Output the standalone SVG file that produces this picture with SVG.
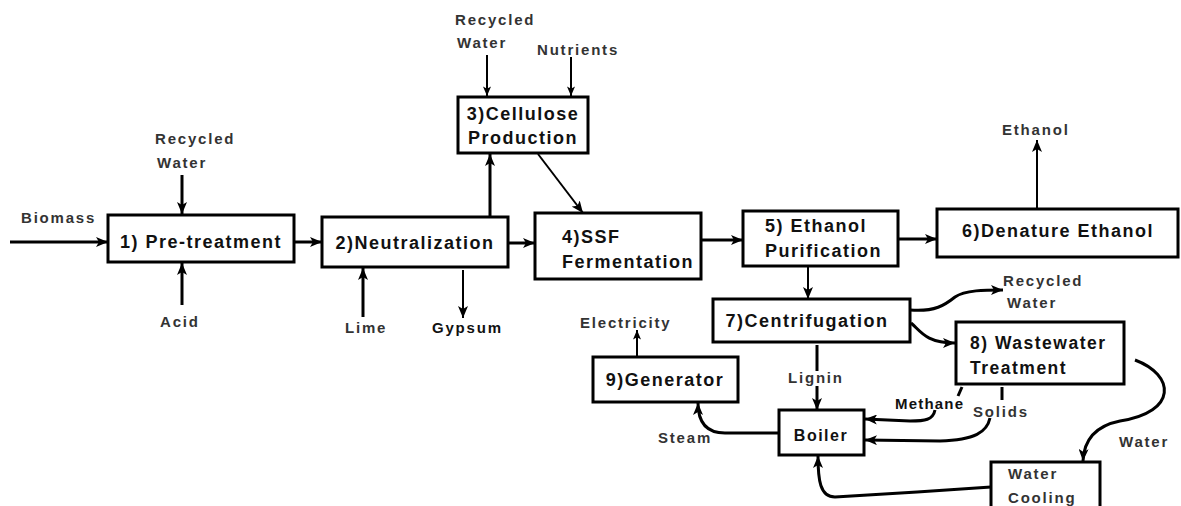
<svg xmlns="http://www.w3.org/2000/svg" width="1181" height="506" viewBox="0 0 1181 506">
<defs>
<marker id="ah" viewBox="0 0 12 10" refX="12" refY="5" markerWidth="12" markerHeight="10" markerUnits="userSpaceOnUse" orient="auto"><path d="M0,0 L12,5 L0,10 L3,5 z" fill="#000"/></marker>
<marker id="ahs" viewBox="0 0 12 10" refX="12" refY="5" markerWidth="10" markerHeight="8" markerUnits="userSpaceOnUse" orient="auto"><path d="M0,0 L12,5 L0,10 L3,5 z" fill="#000"/></marker>
</defs>
<style>
.box{fill:#fff;stroke:#000;stroke-width:3}
.bt{font-family:"Liberation Sans",Arial,sans-serif;font-weight:bold;font-size:18px;letter-spacing:1.5px;fill:#111}
.lb{font-family:"Liberation Sans",Arial,sans-serif;font-weight:bold;font-size:15px;letter-spacing:1.8px;fill:#333}
.c{fill:none;stroke:#000;stroke-width:3}
.t{fill:none;stroke:#000;stroke-width:2}
</style>
<rect width="1181" height="506" fill="#fff"/>
<g id="connectors">
<path class="c" d="M10,242 H108" marker-end="url(#ah)"/>
<path class="c" d="M182,175 V214" marker-end="url(#ah)"/>
<path class="c" d="M182,305 V263" marker-end="url(#ah)"/>
<path class="c" d="M294,242 H322" marker-end="url(#ah)"/>
<path class="c" d="M490,217 V154" marker-end="url(#ah)"/>
<path class="t" d="M487,55 V96" marker-end="url(#ahs)"/>
<path class="t" d="M571,57 V96" marker-end="url(#ahs)"/>
<path class="t" d="M538,154 L583,213" marker-end="url(#ah)"/>
<path class="c" d="M508,243 H535" marker-end="url(#ah)"/>
<path class="c" d="M363,317 V268" marker-end="url(#ah)"/>
<path class="t" d="M463,270 V318" marker-end="url(#ah)"/>
<path class="c" d="M701,240 H743" marker-end="url(#ah)"/>
<path class="c" d="M898,239 H937" marker-end="url(#ah)"/>
<path class="t" d="M1037,208 V140" marker-end="url(#ah)"/>
<path class="t" d="M808,266 V299" marker-end="url(#ah)"/>
<path class="t" d="M637,357 V330" marker-end="url(#ahs)"/>
<path class="c" d="M910,310 C935,312 945,305 955,297 C965,290 985,290 1003,290" marker-end="url(#ah)"/>
<path class="c" d="M911,323 C920,330 925,343 955,343" marker-end="url(#ah)"/>
<path class="c" d="M817,345 V371"/>
<path class="c" d="M817,386 V410" marker-end="url(#ah)"/>
<path class="c" d="M779,433 H725 C706,433 698,422 698,403" marker-end="url(#ah)"/>
<path class="c" d="M962,387 L958,396"/>
<path class="c" d="M935,410 C933,420 925,421 910,421 L865,419" marker-end="url(#ah)"/>
<path class="c" d="M1002,387 V400"/>
<path class="c" d="M990,418 C987,432 975,440 940,441 L865,440" marker-end="url(#ah)"/>
<path class="c" d="M1135,360 C1175,375 1178,412 1120,421 C1095,426 1084,440 1083,461" marker-end="url(#ah)"/>
<path class="c" d="M991,487 C950,490 870,495 835,497 C820,497 818,480 818,456" marker-end="url(#ah)"/>
</g>
<g id="n1"><rect class="box" x="108" y="215" width="186" height="47"/><text class="bt" x="201" y="248" text-anchor="middle">1) Pre-treatment</text></g>
<g id="n2"><rect class="box" x="322" y="217" width="186" height="50"/><text class="bt" x="415" y="249" text-anchor="middle">2)Neutralization</text></g>
<g id="n3"><rect class="box" x="458" y="97" width="130" height="56"/><text class="bt" x="523" y="120" text-anchor="middle">3)Cellulose</text><text class="bt" x="523" y="144" text-anchor="middle">Production</text></g>
<g id="n4"><rect class="box" x="535" y="213" width="166" height="66"/><text class="bt" x="562" y="243">4)SSF</text><text class="bt" x="562" y="268">Fermentation</text></g>
<g id="n5"><rect class="box" x="743" y="211" width="155" height="55"/><text class="bt" x="765" y="232">5) Ethanol</text><text class="bt" x="765" y="257">Purification</text></g>
<g id="n6"><rect class="box" x="937" y="209" width="241" height="48"/><text class="bt" x="1058" y="237" text-anchor="middle">6)Denature Ethanol</text></g>
<g id="n7"><rect class="box" x="713" y="299" width="197" height="43"/><text class="bt" x="807" y="327" text-anchor="middle">7)Centrifugation</text></g>
<g id="n8"><rect class="box" x="956" y="322" width="168" height="62"/><text class="bt" x="970" y="349" style="font-size:17.5px">8) Wastewater</text><text class="bt" x="970" y="374" style="font-size:17.5px">Treatment</text></g>
<g id="n9"><rect class="box" x="593" y="357" width="145" height="45"/><text class="bt" x="665" y="386" text-anchor="middle">9)Generator</text></g>
<g id="boiler"><rect class="box" x="779" y="410" width="85" height="45"/><text class="bt" x="821" y="441" text-anchor="middle" style="font-size:16px">Boiler</text></g>
<g id="cooling"><rect class="box" x="991" y="462" width="109" height="52"/><text class="lb" x="1008" y="479">Water</text><text class="lb" x="1008" y="503">Cooling</text></g>
<g id="labels">
<text class="lb" x="21" y="223">Biomass</text>
<text class="lb" x="155" y="144">Recycled</text>
<text class="lb" x="157" y="168">Water</text>
<text class="lb" x="160" y="327">Acid</text>
<text class="lb" x="455" y="25">Recycled</text>
<text class="lb" x="457" y="48">Water</text>
<text class="lb" x="537" y="55">Nutrients</text>
<text class="lb" x="345" y="333">Lime</text>
<text class="lb" x="432" y="333" style="fill:#111">Gypsum</text>
<text class="lb" x="580" y="328">Electricity</text>
<text class="lb" x="1002" y="135">Ethanol</text>
<text class="lb" x="1003" y="286">Recycled</text>
<text class="lb" x="1007" y="308">Water</text>
<text class="lb" x="788" y="383">Lignin</text>
<text class="lb" x="895" y="409" style="fill:#111;letter-spacing:1.2px">Methane</text>
<text class="lb" x="973" y="417">Solids</text>
<text class="lb" x="658" y="443">Steam</text>
<text class="lb" x="1119" y="447">Water</text>
</g>
</svg>
